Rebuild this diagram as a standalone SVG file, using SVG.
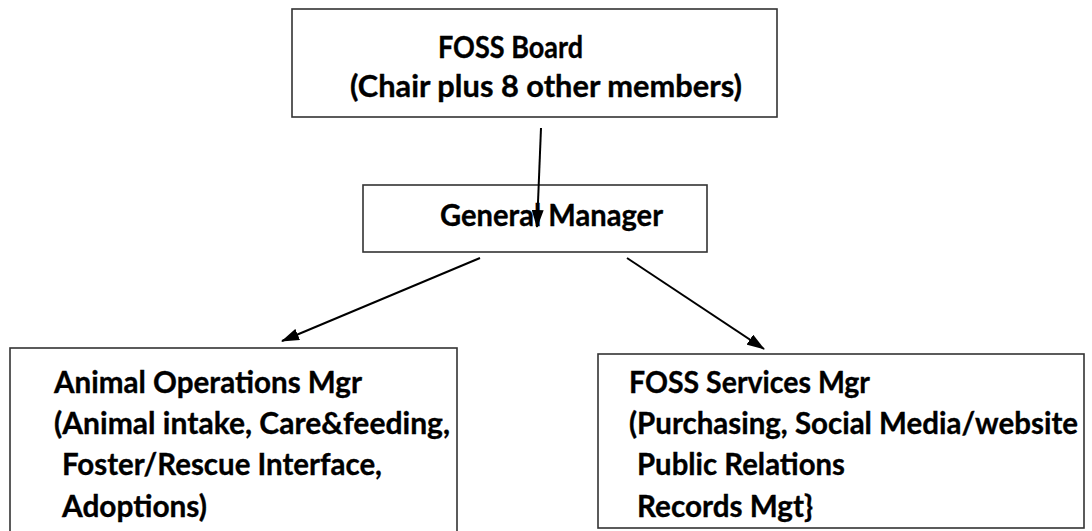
<svg xmlns="http://www.w3.org/2000/svg" width="1092" height="531" viewBox="0 0 1092 531">
<defs>
<style>
.box{fill:#fff;stroke:#333;stroke-width:1.6}
.t{font-family:Lato,"Open Sans","Liberation Sans",sans-serif;font-weight:bold;font-size:30px;fill:#000;stroke:#000;stroke-width:0.35}
.c{stroke:#000;stroke-width:2;fill:none}
</style>
<marker id="ah" viewBox="0 0 18 12" refX="17" refY="6" markerWidth="18" markerHeight="12" markerUnits="userSpaceOnUse" orient="auto">
<path d="M0,0 L18,6 L0,12 Z" fill="#000"/>
</marker>
</defs>
<rect width="1092" height="531" fill="#fff"/>
<g id="board">
<rect class="box" x="292" y="9" width="485" height="108"/>
<text class="t" x="438" y="58" textLength="145" lengthAdjust="spacingAndGlyphs">FOSS Board</text>
<text class="t" x="350" y="97" textLength="392" lengthAdjust="spacingAndGlyphs">(Chair plus 8 other members)</text>
</g>
<g id="gm">
<rect class="box" x="363" y="185" width="344" height="67"/>
<text class="t" x="440" y="226" textLength="223" lengthAdjust="spacingAndGlyphs">General Manager</text>
</g>
<g id="animal">
<rect class="box" x="10" y="348" width="447" height="200"/>
<text class="t" x="54" y="393" textLength="308" lengthAdjust="spacingAndGlyphs">Animal Operations Mgr</text>
<text class="t" x="54" y="434" textLength="396" lengthAdjust="spacingAndGlyphs">(Animal intake, Care&amp;feeding,</text>
<text class="t" x="62" y="475" textLength="320" lengthAdjust="spacingAndGlyphs">Foster/Rescue Interface,</text>
<text class="t" x="62" y="517" textLength="145" lengthAdjust="spacingAndGlyphs">Adoptions)</text>
</g>
<g id="services">
<rect class="box" x="598" y="354" width="486" height="174"/>
<text class="t" x="629" y="393" textLength="241" lengthAdjust="spacingAndGlyphs">FOSS Services Mgr</text>
<text class="t" x="629" y="434" textLength="449" lengthAdjust="spacingAndGlyphs">(Purchasing, Social Media/website</text>
<text class="t" x="637" y="475" textLength="208" lengthAdjust="spacingAndGlyphs">Public Relations</text>
<text class="t" x="637" y="517" textLength="176" lengthAdjust="spacingAndGlyphs">Records Mgt}</text>
</g>
<g id="connectors">
<path class="c" d="M541,128 L537,227" marker-end="url(#ah)"/>
<path class="c" d="M480,258 L282,341" marker-end="url(#ah)"/>
<path class="c" d="M627,258 L764,349" marker-end="url(#ah)"/>
</g>
</svg>
